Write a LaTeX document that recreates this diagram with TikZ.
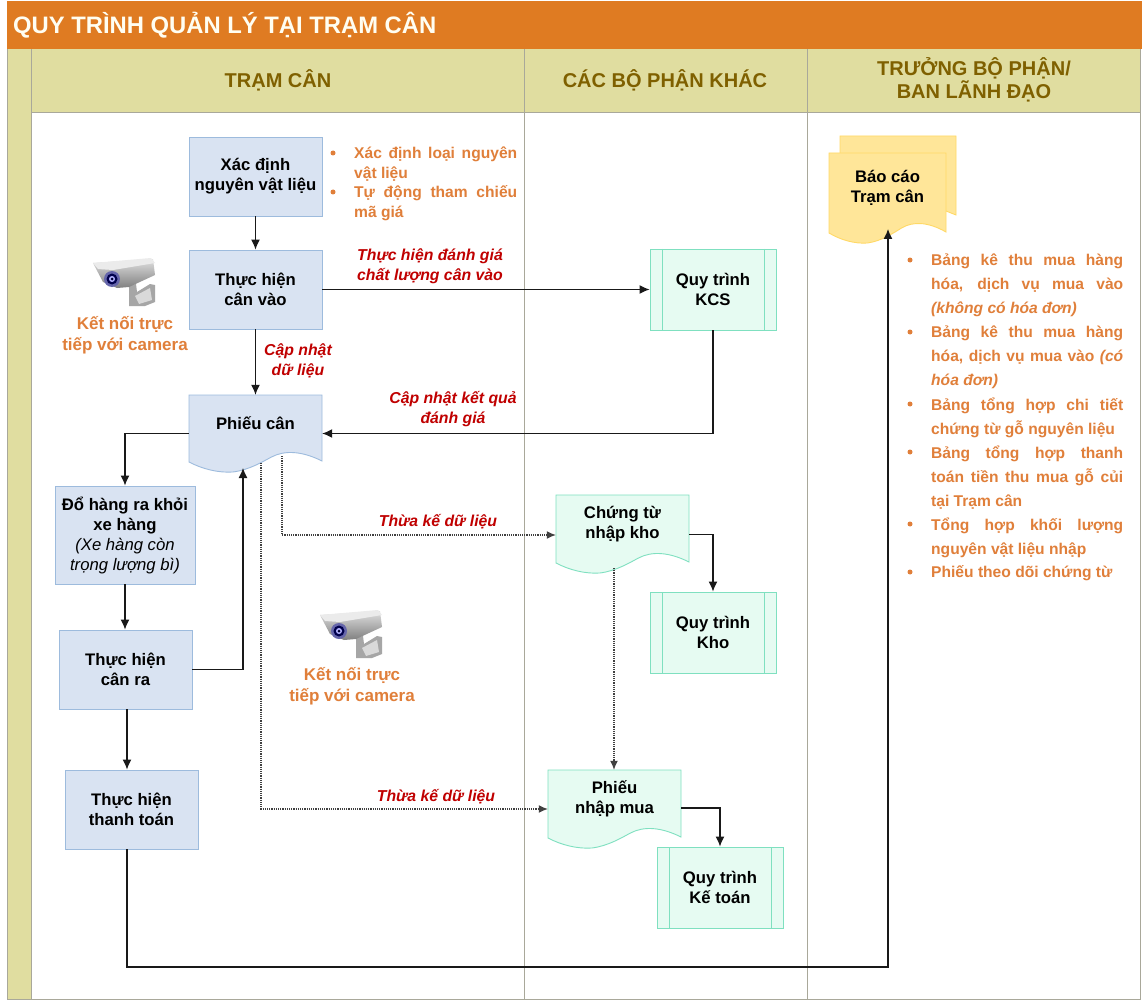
\documentclass[tikz,border=0pt]{standalone}
\usepackage{fontspec}
\setmainfont{Liberation Sans}
\usetikzlibrary{arrows.meta,calc}
\definecolor{titleor}{HTML}{DF7B22}
\definecolor{headbg}{HTML}{E0DDA0}
\definecolor{headtx}{HTML}{7F6000}
\definecolor{framec}{HTML}{A9A89A}
\definecolor{blueF}{HTML}{D9E3F2}
\definecolor{blueD}{HTML}{9DBBDD}
\definecolor{tealF}{HTML}{E6FBF2}
\definecolor{tealD}{HTML}{7FE0C0}
\definecolor{yelF}{HTML}{FFE699}
\definecolor{yelD}{HTML}{FFD966}
\definecolor{ortx}{HTML}{E07F3A}
\definecolor{redtx}{HTML}{C00000}
\tikzset{
  lane/.style={draw=framec,line width=1pt},
  head/.style={lane,fill=headbg},
  headtext/.style={font=\fontsize{20}{23.5}\selectfont\bfseries,text=headtx,align=center},
  stepbox/.style={draw=blueD,fill=blueF,line width=.9pt,inner sep=0pt,align=center,font=\fontsize{16.7}{20}\selectfont\bfseries},
  procbox/.style={draw=tealD,fill=tealF,line width=.9pt,inner sep=0pt,align=center,font=\fontsize{16.7}{20}\selectfont\bfseries},
  doctext/.style={inner sep=0pt,align=center,font=\fontsize{16.7}{20}\selectfont\bfseries},
  redlabel/.style={inner sep=0pt,align=center,text=redtx,font=\fontsize{15.8}{19.5}\selectfont\bfseries\itshape},
  camlabel/.style={inner sep=0pt,align=center,text=ortx,font=\fontsize{17}{21}\selectfont\bfseries},
  arrowline/.style={line width=1.2pt,draw=black!90,-{Latex[length=10pt,width=9pt]}},
  dotline/.style={line width=1.2pt,draw=black!75,densely dotted,-{Latex[length=9pt,width=8pt]}},
}
% document shape: name, x1, top, x2, bottom edge, fill, draw, text
\newcommand{\docnode}[8]{%
  \pgfmathsetmacro{\dw}{#4-#2}
  \pgfmathsetmacro{\dh}{#5-#3-10}
  \pgfmathsetmacro{\dcx}{(#2+#4)/2}
  \pgfmathsetmacro{\dcy}{(#3+#5)/2-5}
  \draw[fill=#6,draw=#7,line width=.9pt]
    (#2,#3) -- (#4,#3) -- (#4,#5-1)
    .. controls (#4-.15*\dw,#5-11) and (#4-.28*\dw,#5-12) .. (#2+.62*\dw,#5-5)
    .. controls (#2+.55*\dw,#5) and (#2+.45*\dw,#5+8) .. (#2+.33*\dw,#5+10)
    .. controls (#2+.22*\dw,#5+11) and (#2+.1*\dw,#5+7) .. (#2,#5) -- cycle;
  \node[doctext,minimum width=\dw pt,minimum height=\dh pt] (#1) at (\dcx,\dcy) {#8};
}
% process box with side bars
\newcommand{\procnode}[6]{%
  \pgfmathsetmacro{\dw}{#4-#2}
  \pgfmathsetmacro{\dh}{#5-#3}
  \pgfmathsetmacro{\dcx}{(#2+#4)/2}
  \pgfmathsetmacro{\dcy}{(#3+#5)/2}
  \node[procbox,minimum width=\dw pt,minimum height=\dh pt] (#1) at (\dcx,\dcy) {#6};
  \draw[draw=tealD,line width=.9pt] (#2+12,#3) -- (#2+12,#5) (#4-12,#3) -- (#4-12,#5);
}
\newcommand{\stepnode}[6]{%
  \pgfmathsetmacro{\dw}{#4-#2}
  \pgfmathsetmacro{\dh}{#5-#3}
  \pgfmathsetmacro{\dcx}{(#2+#4)/2}
  \pgfmathsetmacro{\dcy}{(#3+#5)/2}
  \node[stepbox,minimum width=\dw pt,minimum height=\dh pt] (#1) at (\dcx,\dcy) {#6};
}
% bullet item: name, bullet x, text x, first line centre y, width, baselineskip, text
\newcommand{\bulitem}[7]{%
  \node[circle,fill=ortx,inner sep=0pt,minimum size=5pt] (#1b) at (#2,#4) {};
  \node[anchor=north west,inner sep=0pt,text width=#5 pt,text=ortx,align=justify,
        font=\fontsize{15.6}{#6}\selectfont\bfseries] (#1) at (#3,#4-6.5)
        {\rule{0pt}{12pt}#7};
}
\newcommand{\cameraicon}[2]{%
  \begin{scope}[shift={(#1,#2)}]
    \fill[black!35] (36,27) -- (43,26) -- (44,34) -- (57,26) -- (62,27) -- (62,44) -- (52,48) -- (36,48) -- cycle;
    \fill[black!15] (42,38) -- (57,30) -- (59,42) -- (46,46) -- cycle;
    \shade[top color=black!12,bottom color=black!50] (0,5) -- (60,1) -- (62,17) -- (36,29) -- (24,30) -- (10,24) -- cycle;
    \fill[black!8] (0,5) -- (58,0) -- (62,5) -- (20,12) -- (5,11) -- cycle;
    \fill[black!55!blue!60!white] (19,21) circle (8);
    \fill[black!70!blue] (19,21) circle (5.5);
    \fill[blue!30!white] (19,21) circle (3);
    \fill[black!80!blue] (19,21) circle (1.5);
  \end{scope}
}
\begin{document}
\begin{tikzpicture}[x=1pt,y=-1pt]
\useasboundingbox (0,0) rectangle (1142,1000);
\fill[white] (0,0) rectangle (1142,1000);
% frame
\draw[lane,fill=white] (31,113) rectangle (1140,999);
\draw[lane] (524,113) -- (524,999) (807,113) -- (807,999);
\draw[head] (7,49) rectangle (31,999);
\draw[head] (31,49) rectangle (524,113);
\draw[head] (524,49) rectangle (807,113);
\draw[head] (807,49) rectangle (1140,113);
\fill[titleor] (7,1) rectangle (1142,49);
\node[anchor=west,inner sep=0pt,text=white!95!yellow,font=\fontsize{23.8}{26}\selectfont\bfseries] (title) at (13,25) {QUY TRÌNH QUẢN LÝ TẠI TRẠM CÂN};
\node[headtext] (h1) at (278,80) {TRẠM CÂN};
\node[headtext] (h2) at (665,80) {CÁC BỘ PHẬN KHÁC};
\node[headtext] (h3) at (974,80) {TRƯỞNG BỘ PHẬN/\\BAN LÃNH ĐẠO};
% shapes
\stepnode{xd}{189}{137}{322}{216}{Xác định\\nguyên vật liệu}
\stepnode{tv}{189}{250}{322}{329}{Thực hiện\\cân vào}
\stepnode{dh}{55}{486}{195}{584}{Đổ hàng ra khỏi\\xe hàng\\{\mdseries\itshape (Xe hàng còn}\\{\mdseries\itshape trọng lượng bì)}}
\stepnode{cr}{59}{630}{192}{709}{Thực hiện\\cân ra}
\stepnode{tt}{65}{770}{198}{849}{Thực hiện\\thanh toán}
\procnode{kcs}{650}{249}{776}{330}{Quy trình\\KCS}
\procnode{kho}{650}{592}{776}{673}{Quy trình\\Kho}
\procnode{kt}{657}{847}{783}{928}{Quy trình\\Kế toán}
\docnode{pc}{189}{395}{322}{462}{blueF}{blueD}{Phiếu cân}
\docnode{ct}{556}{495}{689}{563}{tealF}{tealD}{Chứng từ\\nhập kho}
\docnode{pn}{548}{770}{681}{838}{tealF}{tealD}{Phiếu\\nhập mua}
\fill[yelF] (840,153) -- (840,136) -- (956,136) -- (956,215) -- (946,211) -- cycle;
\draw[yelD,line width=.9pt] (840,153) -- (840,136) -- (956,136) -- (956,215) -- (946,211);
\docnode{bc}{829}{153}{946}{233}{yelF}{yelD}{Báo cáo\\Trạm cân}
% free connector ends
\coordinate (pcin) at (243,468);
\coordinate (pcdotA) at (282,456);
\coordinate (pcdotB) at (261,463);
\coordinate (ctdot) at (614,568);
\coordinate (bcin) at (888,229);
\coordinate (botturn) at (127,967);
% connectors
\draw[arrowline] (xd.south) -- (tv.north);
\draw[arrowline] (tv.east |- kcs.west) -- (kcs.west);
\draw[arrowline] (tv.south) -- (pc.north);
\draw[arrowline] (kcs.south) |- ([yshift=-10pt]pc.east);
\draw[arrowline] ([yshift=-10pt]pc.west) -| (dh.north);
\draw[arrowline] (dh.south) -- (dh.south |- cr.north);
\draw[arrowline] (cr.east) -| (pcin);
\draw[arrowline] (botturn |- cr.south) -- (botturn |- tt.north);
\draw[dotline] (pcdotA) |- ([yshift=-11pt]ct.west);
\draw[dotline] (pcdotB) |- ([yshift=-10pt]pn.west);
\draw[dotline] (ctdot) -- (ctdot |- pn.north);
\draw[arrowline] ([yshift=-10.5pt]ct.east) -| (kho.north);
\draw[arrowline] ([yshift=-9pt]pn.east) -| (kt.north);
\draw[arrowline] (botturn |- tt.south) -- (botturn) -| (bcin);
% connector labels
\node[redlabel] (l1) at (430,266) {Thực hiện đánh giá\\chất lượng cân vào};
\node[redlabel] (l2) at (298,361) {Cập nhật\\dữ liệu};
\node[redlabel] (l3) at (453,409) {Cập nhật kết quả\\đánh giá};
\node[redlabel] (l4) at (438,522) {Thừa kế dữ liệu};
\node[redlabel] (l5) at (436,797) {Thừa kế dữ liệu};
% cameras
\cameraicon{93}{258}
\cameraicon{320}{610}
\node[camlabel] (c1) at (125,335) {Kết nối trực\\tiếp với camera};
\node[camlabel] (c2) at (352,686) {Kết nối trực\\tiếp với camera};
% lists
\bulitem{a1}{333}{354}{153}{163}{19.5}{Xác định loại nguyên\linebreak vật liệu}
\bulitem{a2}{333}{354}{192}{163}{19.5}{Tự động tham chiếu\linebreak mã giá}
\bulitem{b1}{910}{931}{260}{192}{24}{Bảng kê thu mua hàng\linebreak hóa, dịch vụ mua vào\linebreak {\itshape (không có hóa đơn)}}
\bulitem{b2}{910}{931}{332}{192}{24}{Bảng kê thu mua hàng\linebreak hóa, dịch vụ mua vào {\itshape (có\linebreak hóa đơn)}}
\bulitem{b3}{910}{931}{404}{192}{24}{Bảng tổng hợp chi tiết\linebreak chứng từ gỗ nguyên liệu}
\bulitem{b4}{910}{931}{452}{192}{24}{Bảng tổng hợp thanh\linebreak toán tiền thu mua gỗ củi\linebreak tại Trạm cân}
\bulitem{b5}{910}{931}{524}{192}{24}{Tổng hợp khối lượng\linebreak nguyên vật liệu nhập}
\bulitem{b6}{910}{931}{572}{192}{24}{Phiếu theo dõi chứng từ}
\end{tikzpicture}
\end{document}
